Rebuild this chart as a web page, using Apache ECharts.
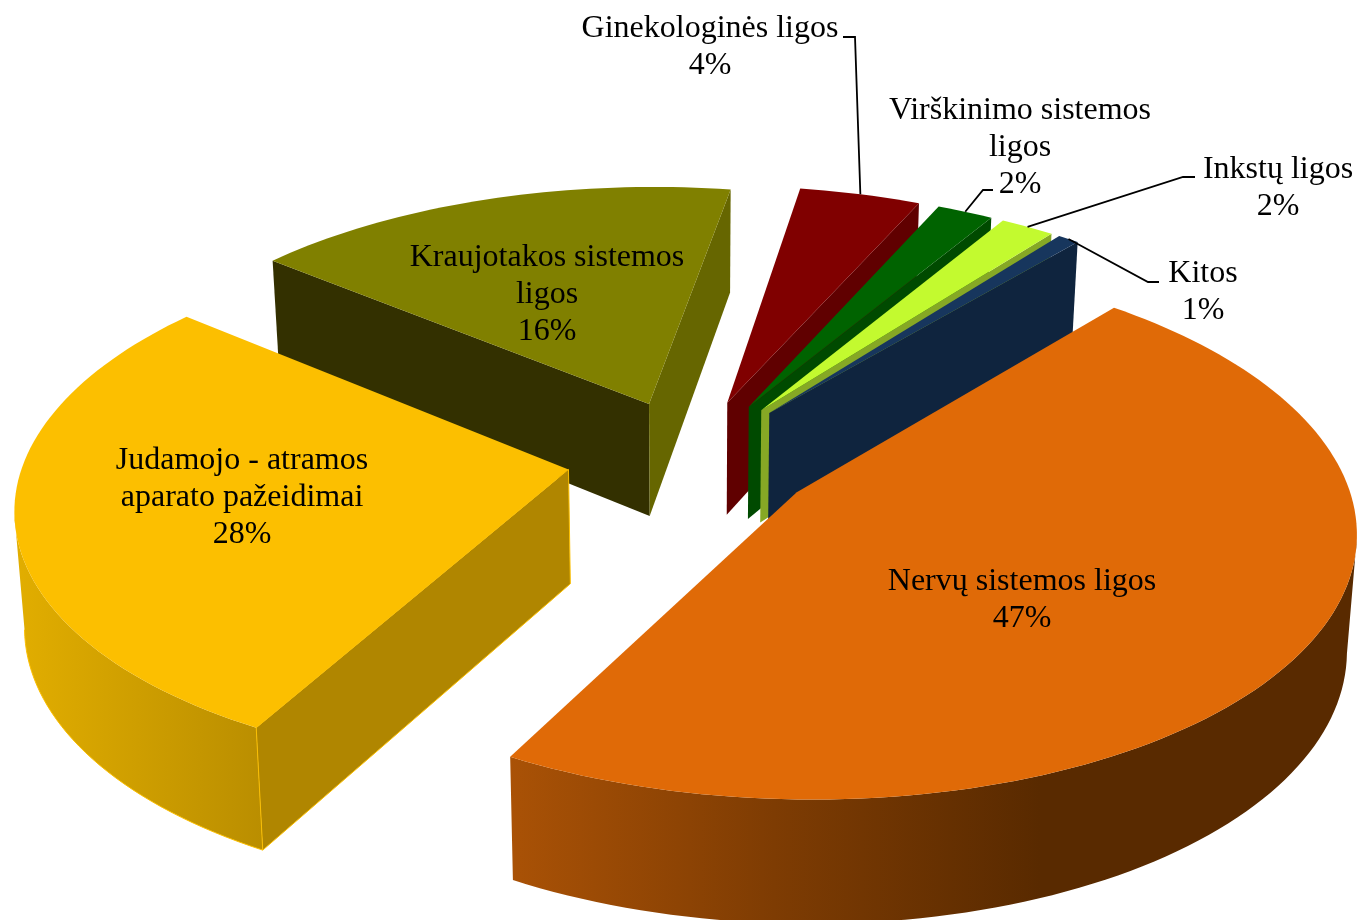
<html>

<head>
<meta charset="utf-8" />
<title>Ligos</title>
<script src="https://cdn.jsdelivr.net/npm/echarts@6/dist/echarts.min.js"></script>
<style type="text/css">
html, body { margin: 0; background: #fff; }
#echarts { width: 1359px; height: 920px; }
</style>
</head>

<body>
<div id="echarts" class="echarts"></div>

<script type="text/javascript">

// data (clockwise from the top right)
var categories = ['Nervų sistemos ligos', 'Judamojo - atramos\naparato pažeidimai', 'Kraujotakos sistemos\nligos', 'Ginekologinės ligos', 'Virškinimo sistemos\nligos', 'Inkstų ligos', 'Kitos'];
// share of the circle as the slices are drawn
var shares = [46.72, 27.94, 16.70, 4.14, 1.92, 1.85, 0.73];
// percent as printed on the labels
var printedPercent = [47, 28, 16, 4, 2, 2, 1];

// colours: top face, cut walls, rim
var topColors = ['#e06a07', '#fcbf00', '#808000', '#800000', '#006300', '#c3fa2f', '#17365d'];
var wallColors = ['#a85006', '#b08600', '#333000', '#600000', '#004a00', '#86a825', '#0f243e'];
var farWallColors = ['#a85006', '#b08600', '#666600', '#600000', '#004a00', '#86a825', '#0f243e'];

// the pie is painted back to front
var paintRank = [6, 5, 0, 1, 2, 3, 4];

// label layout, [x, y] of the text middle
var labelSpots = [[1022, 600], [242, 498], [547, 295], [710, 47], [1020, 148], [1278, 188], [1203, 292]];
// leader lines: the elbows from the text towards the slice
var leaderElbows = {
    3: [[843, 37], [855, 37]],
    4: [[993, 190], [983, 190]],
    5: [[1195, 177], [1183, 177]],
    6: [[1159, 282], [1148, 282]]
};

// projection of the tilted pie
var centerX = 692, centerY = 458;
var scaleX = 544, scaleY = 258, perspective = 0.129;
var thick = 114, thickGrow = 0.08, shrink = 0.985;
var explode = 0.23;
var startAngle = 40.5;

var total = 0;
shares.forEach(function (v) { total += v; });

function project(x, y, down) {
    var w = 1 - perspective * y;
    var sx = scaleX * x / w;
    var sy = scaleY * y / w;
    if (down) {
        sx *= shrink;
        sy += thick * (1 + thickGrow * y);
    }
    return [centerX + sx, centerY + sy];
}

function sliceAngles(index) {
    var a = startAngle;
    for (var i = 0; i < index; i++) {
        a += shares[i] / total * 360;
    }
    return [a, a + shares[index] / total * 360];
}

function renderItem(params, api) {
    var i = params.dataIndex;
    var angles = sliceAngles(i);
    var from = angles[0] * Math.PI / 180;
    var to = (angles[0] + api.value(0) / total * 360) * Math.PI / 180;
    var mid = (from + to) / 2;
    var offX = explode * Math.sin(mid);
    var offY = -explode * Math.cos(mid);
    var steps = Math.max(4, Math.round((to - from) * 40));
    var topArc = [], lowArc = [];
    for (var s = 0; s <= steps; s++) {
        var t = from + (to - from) * s / steps;
        var x = offX + Math.sin(t);
        var y = offY - Math.cos(t);
        topArc.push(project(x, y, false));
        lowArc.push(project(x, y, true));
    }
    var apexTop = project(offX, offY, false);
    var apexLow = project(offX, offY, true);
    var rank = paintRank[i] * 10;
    var rimFill = wallColors[i];
    if (i === 0) {
        rimFill = new echarts.graphic.LinearGradient(508, 0, 1040, 0, [
            {offset: 0, color: '#aa5206'},
            {offset: 0.5, color: '#7e3c03'},
            {offset: 1, color: '#592a00'}
        ], true);
    } else if (i === 1) {
        rimFill = new echarts.graphic.LinearGradient(13, 0, 262, 0, [
            {offset: 0, color: '#e2ae00'},
            {offset: 1, color: '#ba8e00'}
        ], true);
    }
    var edge = i === 1 ? {stroke: '#fcbf00', lineWidth: 1} : {stroke: null};

    function poly(points, fill, z2, extra) {
        return {
            type: 'polygon',
            shape: {points: points},
            z2: z2,
            style: echarts.util.extend({fill: fill}, extra || {})
        };
    }

    var last = topArc.length - 1;
    var children = [];
    // only the front of the rim shows: the part of the arc running right to left
    var first = -1, end = -1;
    for (var q = 0; q < last; q++) {
        if (topArc[q + 1][0] < topArc[q][0]) {
            if (first < 0) first = q;
            end = q + 1;
        }
    }
    if (first >= 0) {
        var rimTop = topArc.slice(first, end + 1);
        var rimLow = lowArc.slice(first, end + 1);
        children.push(poly(rimTop.concat(rimLow.slice().reverse()), rimFill, rank));
        if (i === 1) {
            children.push({
                type: 'polyline',
                z2: rank,
                shape: {points: rimLow},
                style: {fill: null, stroke: '#fcbf00', lineWidth: 1}
            });
        }
    }
    // a cut wall only shows when it turns towards the viewer
    if (topArc[0][0] < apexTop[0]) {
        children.push(poly([apexTop, topArc[0], lowArc[0], apexLow], wallColors[i], rank + 1, edge));
    }
    if (topArc[last][0] > apexTop[0]) {
        children.push(poly([apexTop, topArc[last], lowArc[last], apexLow], farWallColors[i], rank + 1, edge));
    }
    children.push(poly([apexTop].concat(topArc), topColors[i], rank + 2));
    return {type: 'group', children: children};
}

// the leader runs from the text elbows to the middle of the slice rim
function leaderPoints(i) {
    var angles = sliceAngles(i);
    var mid = (angles[0] + angles[1]) / 2 * Math.PI / 180;
    var x = (explode + 1) * Math.sin(mid);
    var y = -(explode + 1) * Math.cos(mid);
    return leaderElbows[i].concat([project(x, y, false)]);
}

function renderLabel(params, api) {
    var i = params.dataIndex;
    var children = [{
        type: 'text',
        x: labelSpots[i][0],
        y: labelSpots[i][1],
        z2: 200,
        style: {
            text: categories[i] + '\n' + api.value(0) + '%',
            fill: '#000',
            font: '32px "Liberation Serif", "Times New Roman", serif',
            lineHeight: 37,
            align: 'center',
            verticalAlign: 'middle'
        }
    }];
    if (leaderElbows[i]) {
        children.push({
            type: 'polyline',
            z2: 199,
            shape: {points: leaderPoints(i)},
            style: {fill: null, stroke: '#000', lineWidth: 1.8}
        });
    }
    return {type: 'group', children: children};
}

var myChart = echarts.init(document.getElementById('echarts'));

var option = {
    animation: false,
    backgroundColor: '#fff',
    series: [{
        type: 'custom',
        coordinateSystem: 'none',
        silent: true,
        renderItem: renderItem,
        data: shares.map(function (v) { return [v]; })
    }, {
        type: 'custom',
        coordinateSystem: 'none',
        silent: true,
        z: 3,
        renderItem: renderLabel,
        data: printedPercent.map(function (v) { return [v]; })
    }]
};

myChart.setOption(option);

</script>
</body>

</html>
